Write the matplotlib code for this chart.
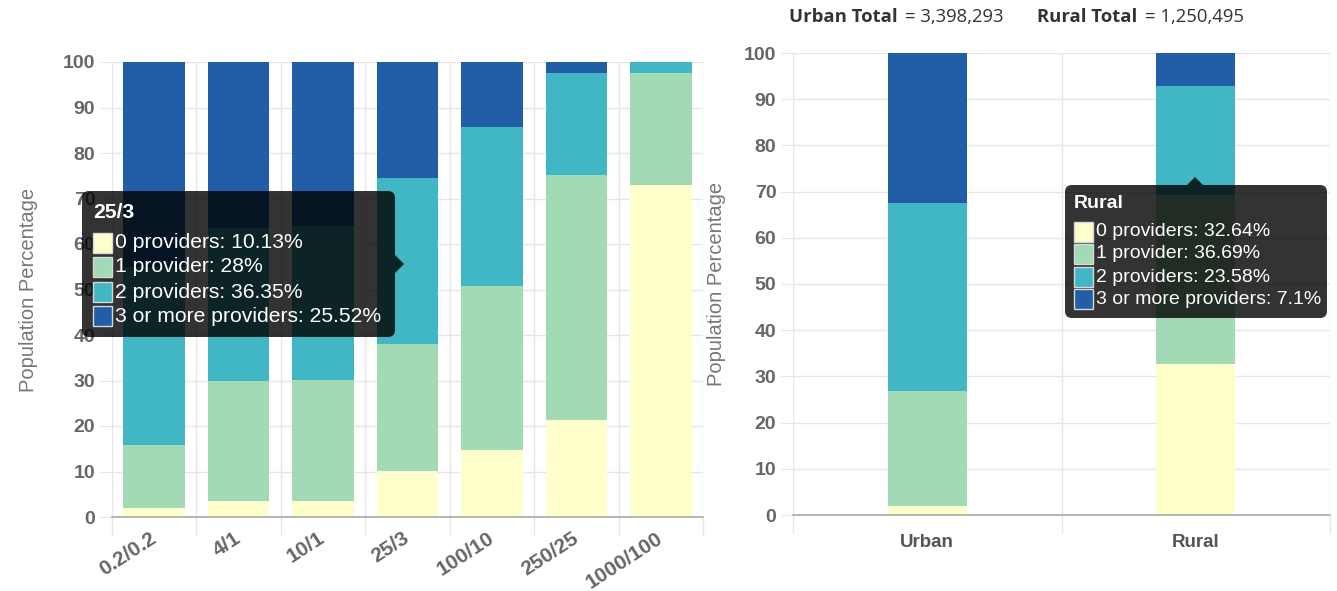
# Broadband providers by speed tier and by urban / rural area

import numpy as np
import matplotlib.pyplot as plt
from matplotlib.patches import FancyBboxPatch, Polygon, Rectangle
from matplotlib.transforms import IdentityTransform

plt.rcParams['font.family'] = ['Liberation Sans', 'DejaVu Sans']

# Data
speed_tiers = ['0.2/0.2', '4/1', '10/1', '25/3', '100/10', '250/25', '1000/100']
tier_zero = [2.0, 3.5, 3.6, 10.13, 14.8, 21.3, 73.0]
tier_one = [13.8, 26.3, 26.6, 28.0, 35.9, 53.9, 24.5]
tier_two = [39.2, 33.7, 33.8, 36.35, 35.1, 22.3, 2.5]
tier_three = [45.0, 36.5, 36.0, 25.52, 14.2, 2.5, 0.0]

areas = ['Urban', 'Rural']
area_zero = [2.0, 32.64]
area_one = [24.8, 36.69]
area_two = [40.8, 23.58]
area_three = [32.4, 7.1]
area_totals = ['3,398,293', '1,250,495']

series_names = ['0 providers', '1 provider', '2 providers', '3 or more providers']
colors = ['#ffffcc', '#a1dab4', '#41b6c4', '#225ea8']

W, H = 1337, 591
GRID = '#e6e6e6'
TICK_TXT = '#666666'


def fx(x):
    return x / W


def fy(y):
    return 1 - y / H


def style_axis(ax, ncat):
    ax.set_xlim(-0.5, ncat - 0.5)
    ax.set_ylim(0, 100)
    ax.set_yticks(range(0, 101, 10))
    ax.set_xticks(np.arange(ncat))
    ax.set_xticks(np.arange(-0.5, ncat), minor=True)
    ax.grid(axis='y', color=GRID, lw=1)
    ax.grid(axis='x', which='minor', color=GRID, lw=1)
    ax.set_axisbelow(True)
    for s in ['top', 'right', 'left']:
        ax.spines[s].set_visible(False)
    ax.spines['bottom'].set_color('#a8a8a8')
    ax.spines['bottom'].set_linewidth(1.2)
    ax.tick_params(axis='y', length=9, color=GRID, labelcolor=TICK_TXT,
                   labelsize=14, pad=3)
    ax.tick_params(axis='x', which='major', length=0)
    ax.tick_params(axis='x', which='minor', length=13, color=GRID, width=1)
    for lab in ax.get_yticklabels():
        lab.set_fontweight('bold')
    ax.set_ylabel('Population Percentage', color='#777777', fontsize=14.5)


def stacked(ax, values, width):
    x = np.arange(len(values[0]))
    bottom = np.zeros(len(x))
    for vals, c in zip(values, colors):
        ax.bar(x, vals, width, bottom=bottom, color=c, linewidth=0)
        bottom += np.array(vals)


def tooltip(fig, box, title, rows, arrow, row_y, title_y, sw_x, fs):
    x0, y0, x1, y1 = box
    T = IdentityTransform()
    patch = FancyBboxPatch((x0, H - y1), x1 - x0, y1 - y0,
                           boxstyle='round,pad=0,rounding_size=7',
                           fc=(0, 0, 0, 0.8), ec='none', transform=T, zorder=10)
    fig.add_artist(patch)
    tri = Polygon([(px, H - py) for px, py in arrow], closed=True,
                  fc=(0, 0, 0, 0.8), ec='none', transform=T, zorder=10)
    fig.add_artist(tri)
    fig.text(sw_x, H - title_y, title, color='white', fontsize=fs,
             fontweight='bold', va='center', transform=T, zorder=11)
    for (label, c), ry in zip(rows, row_y):
        sq = Rectangle((sw_x, H - ry - 10), 19, 20, fc=c, ec='#d8d8d8',
                       lw=1, transform=T, zorder=11)
        fig.add_artist(sq)
        fig.text(sw_x + 22, H - ry, label, color='white', fontsize=fs,
                 va='center', transform=T, zorder=11)


fig = plt.figure(figsize=(W / 100, H / 100), dpi=100)

# Left: speed tiers
ax1 = fig.add_axes([fx(112), fy(517), fx(703) - fx(112), fy(62) - fy(517)])
stacked(ax1, [tier_zero, tier_one, tier_two, tier_three], 0.73)
style_axis(ax1, len(speed_tiers))
ax1.set_xticklabels(speed_tiers, rotation=33, ha='right', va='center',
                    rotation_mode='anchor', fontsize=15, color=TICK_TXT,
                    fontweight='bold')
ax1.tick_params(axis='x', which='major', pad=14)
ax1.yaxis.set_label_coords(-0.125, 0.5)

# Right: urban / rural
ax2 = fig.add_axes([fx(793), fy(515), fx(1330) - fx(793), fy(53) - fy(515)])
stacked(ax2, [area_zero, area_one, area_two, area_three], 0.295)
style_axis(ax2, len(areas))
ax2.set_xticklabels(areas, fontsize=13.5, color='#555555', fontweight='bold')
ax2.tick_params(axis='x', which='major', pad=14)
ax2.yaxis.set_label_coords(-0.125, 0.5)

# Header with totals
hdr = dict(fontsize=13.3, color='#333333', va='center', family='Open Sans')
fig.text(fx(789), fy(17), f'{areas[0]} Total', fontweight='bold', **hdr)
fig.text(fx(905), fy(17), f'= {area_totals[0]}', **hdr)
fig.text(fx(1037), fy(17), f'{areas[1]} Total', fontweight='bold', **hdr)
fig.text(fx(1145), fy(17), f'= {area_totals[1]}', **hdr)

# Tooltips
i = 3
left_rows = [(f'{n}: {v[i]:g}%', c) for n, v, c in
             zip(series_names, [tier_zero, tier_one, tier_two, tier_three], colors)]
tooltip(fig, (82, 191, 395, 337), speed_tiers[i], left_rows,
        [(395, 255), (404, 264), (395, 273)],
        [243, 267, 292, 316], 212, 93, 15.2)

j = 1
right_rows = [(f'{n}: {v[j]:g}%', c) for n, v, c in
              zip(series_names, [area_zero, area_one, area_two, area_three], colors)]
tooltip(fig, (1065, 185, 1327, 318), areas[j], right_rows,
        [(1187, 185), (1195, 177), (1203, 185)],
        [232, 254, 277, 299], 203, 1074, 14)

fig.savefig('out.png', dpi=100)
